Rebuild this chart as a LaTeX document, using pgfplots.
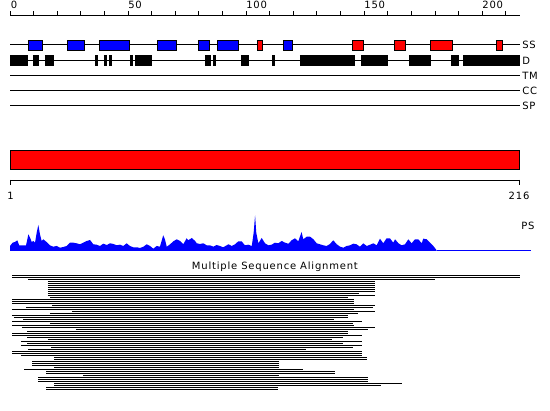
\documentclass[border=0pt]{standalone}
\usepackage{pgfplots}
\pgfplotsset{compat=1.18}
\usepackage{pgfplotstable}
\usepackage{fontspec}
\setmainfont{DejaVu Sans}[LetterSpace=8]

% secondary structure boxes (residue start, end)
\pgfplotstableread{
a b
7.6 14.0
24.1 31.8
37.7 50.8
62.3 70.7
79.6 84.7
87.7 97.0
115.6 119.9
}\ssblue
\pgfplotstableread{
a b
104.6 107.2
144.9 149.9
162.6 167.7
177.9 187.6
205.8 208.8
}\ssred
% disorder boxes
\pgfplotstableread{
a b
0 7.6
9.7 12.3
14.8 18.6
36.0 37.3
39.8 41.1
41.9 43.2
50.8 52.1
52.9 60.1
82.6 85.1
86.0 87.2
97.8 101.2
111.0 112.2
122.8 146.1
148.7 160.1
169.0 178.3
186.8 190.2
191.9 216.0
}\dis
% ruler ticks
\pgfplotstableread{
r y
0 395.5
10 395.5
20 395.5
30 395.5
40 395.5
50 395.5
60 395.5
70 395.5
80 395.5
90 395.5
100 395.5
110 395.5
120 395.5
130 395.5
140 395.5
150 395.5
160 395.5
170 395.5
180 395.5
190 395.5
200 395.5
210 395.5
}\rticks
% PS profile (residue, height)
\pgfplotstableread{
r h
0 0
0 5
1.1 8.3
2.1 9
3.1 10.7
3.9 5.7
5.9 5.7
6.8 5.7
7.8 16.7
8.5 13.3
9.2 9
9.9 10
10.6 8.3
11.3 18.3
12.0 26
12.7 16.7
13.4 10
14.1 11.7
15.5 9
16.9 5.7
18.3 4.3
19.8 5
21.2 3.3
22.6 4
24.0 5
25.4 8.3
26.8 8.3
28.2 7.7
29.6 6.7
31.0 8.3
32.5 10
33.9 11
35.3 6.7
36.7 6.3
38.1 5
39.5 7.3
41.0 6
42.4 7.7
43.8 7
45.2 5.7
46.6 6.3
48.0 5
49.4 7.7
50.8 5
52.2 3.7
53.7 3.7
55.1 3
56.5 4.3
57.9 6.7
59.3 5
60.7 2.3
62.1 5
63.5 4.3
64.9 15.7
65.6 11.7
66.4 4.3
67.8 6.7
69.2 9.7
70.6 11.7
72.0 10
73.4 6.7
74.8 12.7
75.5 10.7
77.0 13
78.4 10
79.1 7.7
80.5 7
81.9 7.7
83.3 5.7
84.7 5.7
86.1 4.3
87.5 6
88.9 5
90.3 3.7
91.8 5.7
92.5 6.7
93.9 5
95.3 6.7
96.7 9.7
98.1 9.7
99.5 5.7
100.9 6.3
102.4 5
103.2 18.3
103.8 35.7
104.3 18.3
105.2 7.7
106.6 13
108.0 7.7
109.4 5.7
110.8 6.3
112.2 8.3
113.6 7.7
115.1 10
116.5 8.3
117.9 7.3
119.3 10.7
120.7 12.7
122.1 9.7
123.5 19
124.2 11.7
125.7 14.3
127.1 14.3
128.5 11.7
129.9 7.7
131.3 6.7
132.7 5.7
134.1 5
135.5 7
136.9 10.7
138.4 6.7
139.8 4.3
141.2 3.3
142.6 5
144.0 5.7
145.4 7.3
146.8 6.7
148.2 4.3
149.6 7.7
151.1 5
152.5 6.3
153.9 7.7
155.3 5.7
156.7 12.3
158.1 7.7
159.5 12.7
160.9 12.7
162.3 8.3
163.1 11.7
164.5 7.7
165.9 5.7
167.3 6.7
168.7 11.7
170.1 7.7
171.5 11.7
172.9 11.7
174.4 7.7
175.0 12.3
176.5 11.7
177.9 8.3
179.3 5
180.7 0.7
180.7 0
}\ps
% multiple sequence alignment (row, start, end)
\pgfplotstableread{
k s e
0 0.85 216
1 0.85 216
2 7.62 180.0
3 16.09 154.59
4 16.09 154.59
5 16.09 154.59
6 16.09 154.59
7 16.09 154.59
8 16.09 154.59
9 16.09 147.81
10 16.09 154.59
11 16.94 143.15
12 0.85 145.69
13 0.85 145.69
14 0.85 145.69
15 17.79 154.59
16 6.78 153.74
17 0.85 145.69
18 26.26 154.59
19 16.94 147.39
20 0.85 143.15
21 1.69 143.15
22 5.51 137.22
23 0.85 149.08
24 16.94 145.27
25 0.85 145.69
26 5.08 154.59
27 27.95 151.62
28 7.20 143.15
29 0.85 143.15
30 0.85 149.08
31 7.20 141.04
32 16.09 136.38
33 4.66 149.08
34 7.20 141.04
35 4.66 149.08
36 17.36 145.27
37 7.62 125.36
38 0.85 149.08
39 0.85 149.08
40 4.66 149.08
41 18.64 151.20
42 18.64 151.20
43 9.32 113.93
44 9.32 113.93
45 9.32 113.93
46 18.64 113.93
47 5.93 124.09
48 15.25 137.65
49 15.25 137.65
50 30.92 113.93
51 11.86 151.62
52 11.86 151.62
53 11.86 151.62
54 18.64 166.02
55 18.64 157.13
56 15.25 113.5
57 15.25 113.5
}\msa

\begin{document}
\begin{tikzpicture}
\begin{axis}[
  width=550pt, height=411pt, scale only axis,
  xmin=-4.2353, xmax=228.706, ymin=0, ymax=411,
  axis lines=none, clip=false,
  font=\fontsize{10}{12}\selectfont,
]
\coordinate (bl) at (rel axis cs:0,0);
\coordinate (tr) at (rel axis cs:1,1);
% top ruler
\addplot[black, line width=1pt] coordinates {(0,395.5) (216,395.5)};
\addplot[black, line width=1pt, quiver={u=0, v=4.5}] table[x=r, y=y] {\rticks};
\node[anchor=base west, inner sep=0] at (axis cs:0.3,402) {0};
\node[anchor=base west, inner sep=0] at (axis cs:50,402) {50};
\node[anchor=base west, inner sep=0] at (axis cs:100,402) {100};
\node[anchor=base west, inner sep=0] at (axis cs:150,402) {150};
\node[anchor=base west, inner sep=0] at (axis cs:200,402) {200};
% tracks
\addplot[black, line width=1pt] coordinates {(0,366.5) (216,366.5)};
\addplot[black, line width=1pt] coordinates {(0,350.5) (216,350.5)};
\addplot[black, line width=1pt] coordinates {(0,335.5) (216,335.5)};
\addplot[black, line width=1pt] coordinates {(0,320.5) (216,320.5)};
\addplot[black, line width=1pt] coordinates {(0,305.5) (216,305.5)};
% SS boxes
\addplot[black, line width=11pt, quiver={u=\thisrow{b}-\thisrow{a}, v=0}] table[x=a, y expr=365.7] {\ssblue};
\addplot[blue, line width=9pt, quiver={u=\thisrow{b}-\thisrow{a}-0.847, v=0}] table[x expr=\thisrow{a}+0.4235, y expr=365.7] {\ssblue};
\addplot[black, line width=11pt, quiver={u=\thisrow{b}-\thisrow{a}, v=0}] table[x=a, y expr=365.7] {\ssred};
\addplot[red, line width=9pt, quiver={u=\thisrow{b}-\thisrow{a}-0.847, v=0}] table[x expr=\thisrow{a}+0.4235, y expr=365.7] {\ssred};
% disorder boxes
\addplot[black, line width=11pt, quiver={u=\thisrow{b}-\thisrow{a}, v=0}] table[x=a, y expr=350.7] {\dis};
% track labels
\node[anchor=west, inner sep=0] at (axis cs:216.9,366.5) {SS};
\node[anchor=west, inner sep=0] at (axis cs:216.9,350.5) {D};
\node[anchor=west, inner sep=0] at (axis cs:216.9,335.5) {TM};
\node[anchor=west, inner sep=0] at (axis cs:216.9,320.5) {CC};
\node[anchor=west, inner sep=0] at (axis cs:216.9,305.5) {SP};
% red domain bar
\addplot[fill=red, draw=black, line width=1pt] coordinates {(0.21,241) (215.79,241) (215.79,260.5) (0.21,260.5)} -- cycle;
% lower ruler
\addplot[black, line width=1pt] coordinates {(0,230.5) (216,230.5)};
\addplot[black, line width=1pt] coordinates {(0.2,231) (0.2,225.5)};
\addplot[black, line width=1pt] coordinates {(215.8,231) (215.8,225.5)};
\node[anchor=base, inner sep=0] at (axis cs:0.2,211) {1};
\node[anchor=base, inner sep=0] at (axis cs:215.6,211) {216};
% PS profile
\addplot[fill=blue, draw=none] table[x=r, y expr=160+\thisrow{h}] {\ps} -- cycle;
\addplot[blue, line width=1pt] coordinates {(180.7,160.5) (220.7,160.5)};
\node[anchor=west, inner sep=0] at (axis cs:216.5,185) {PS};
% MSA
\node[anchor=base, inner sep=0] at (axis cs:112.2,141) {Multiple Sequence Alignment};
\addplot[black, line width=1pt, quiver={u=\thisrow{e}-\thisrow{s}, v=0}] table[x=s, y expr=135.5-2*\thisrow{k}] {\msa};
\end{axis}
\pgfresetboundingbox
\path[use as bounding box] (bl) rectangle (tr);
\end{tikzpicture}
\end{document}
